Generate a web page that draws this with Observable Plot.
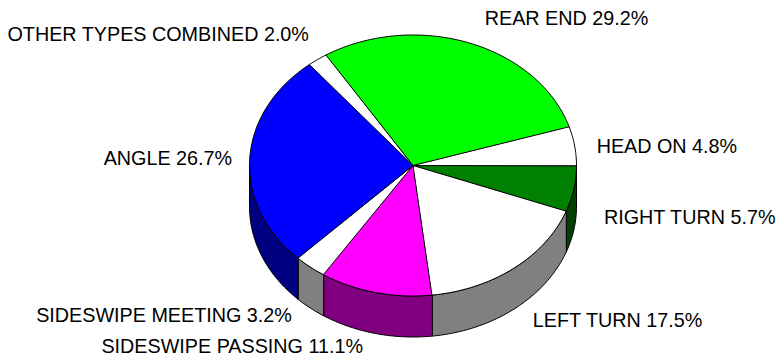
<!DOCTYPE html>
<html>
<head>
<meta charset="utf-8">
<script src="https://cdn.jsdelivr.net/npm/d3@7"></script>
<script src="https://cdn.jsdelivr.net/npm/@observablehq/plot@0.6"></script>
<style>html,body{margin:0;padding:0;background:#fff}svg{display:block}</style>
</head>
<body>
<div id="chart"></div>
<script>
// Clockwise from the east point of the pie
const categories = ["RIGHT TURN","LEFT TURN","SIDESWIPE PASSING","SIDESWIPE MEETING","ANGLE","OTHER TYPES COMBINED","REAR END","HEAD ON"];
const percents   = [5.7,17.5,11.1,3.2,26.7,2.0,29.2,4.8];
const topColors  = ["#008000","#ffffff","#ff00ff","#ffffff","#0000ff","#ffffff","#00ff00","#ffffff"];
const sideColors = ["#004000","#808080","#800080","#808080","#000080","#808080","#008000","#808080"];
const labelDx    = [30,19,-274,-274,-146,-310,15,22];
const labelDy    = [28.5,52.5,54,48.5,-0.5,-24.5,-24.5,0.5];

const W = 779, H = 358, cx = 412.5, cy = 165, rx = 163.5, ry = 130.5, depth = 41 / ry;

// The printed shares add up to 100.2%; each keeps its own share of the turn and the last stops at the east point.
const TAU = 2 * Math.PI;
const arcs = d3.pie().sort(null).value(d => d).endAngle(TAU * d3.sum(percents) / 100)(percents)
  .map(d => ({...d, endAngle: Math.min(d.endAngle, TAU)}));
const arcPts = (a0, a1, dy = 0) => {
  const n = Math.max(2, Math.ceil((a1 - a0) / (Math.PI / 180)));
  return d3.range(n + 1).map(i => {
    const a = a0 + (a1 - a0) * i / n;
    return [Math.cos(a), Math.sin(a) + dy];
  });
};
const toRows = (pts, i) => pts.map(([x, y]) => ({x, y, i}));

const sides = arcs.flatMap((d, i) => {
  const a0 = d.startAngle, a1 = Math.min(d.endAngle, Math.PI);
  if (a0 >= Math.PI) return [];
  return [{i, rows: toRows([...arcPts(a0, a1), ...arcPts(a0, a1, depth).reverse()], i)}];
});
const tops = arcs.map((d, i) => ({i, rows: toRows([[0, 0], ...arcPts(d.startAngle, d.endAngle)], i)}));
const labels = arcs.map((d, i) => {
  const m = (d.startAngle + d.endAngle) / 2;
  return {x: Math.cos(m), y: Math.sin(m), text: `${categories[i]} ${percents[i].toFixed(1)}%`, i};
});

const poly = (rows, fill) => Plot.line(rows, {x: "x", y: "y", fill, stroke: "#000", strokeWidth: 1, curve: "linear-closed"});

const chart = Plot.plot({
  width: W, height: H,
  margin: 0,
  style: {background: "#fff", fontFamily: "'Liberation Sans', Arial, sans-serif"},
  x: {domain: [-cx / rx, (W - cx) / rx], range: [0, W], axis: null},
  y: {domain: [-cy / ry, (H - cy) / ry], range: [0, H], axis: null},
  marks: [
    ...sides.map(s => poly(s.rows, sideColors[s.i])),
    ...tops.map(s => poly(s.rows, topColors[s.i])),
    ...labels.map(l => Plot.text([l], {
      x: "x", y: "y", text: "text", textAnchor: "start", lineAnchor: "middle",
      dx: labelDx[l.i], dy: labelDy[l.i], fontSize: 19.75, fill: "#000"
    }))
  ]
});
document.getElementById("chart").append(chart);
</script>
</body>
</html>
